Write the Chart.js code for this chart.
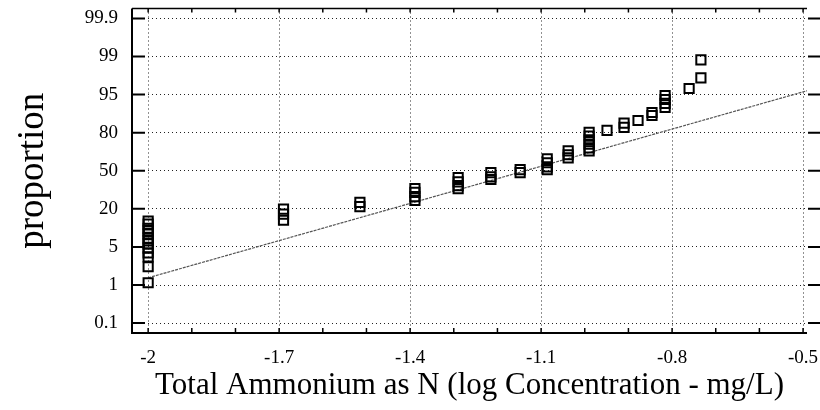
<!DOCTYPE html>
<html>
<head>
<meta charset="utf-8">
<script src="https://cdn.jsdelivr.net/npm/chart.js@4"></script>
<style>
  html, body { margin: 0; padding: 0; background: #fff; }
  canvas { display: block; }
</style>
</head>
<body>
<canvas id="probChart" width="820" height="410"></canvas>
<script>
// Normal probability plot - total ammonium
// y values are positions on the probability axis (0 = 0.1%, 8 = 99.9%)
const yTickLabels = ['0.1', '1', '5', '20', '50', '80', '95', '99', '99.9'];
const xTickValues = [-2, -1.7, -1.4, -1.1, -0.8, -0.5];

const concX = [
    -2, -2, -2, -2, -2, -2, -2, -2, -2, -2, -2, -2, -2,
    -1.69, -1.69, -1.69,
    -1.515, -1.515,
    -1.389, -1.389, -1.389, -1.389,
    -1.29, -1.29, -1.29, -1.29,
    -1.215, -1.215, -1.215,
    -1.148, -1.148,
    -1.086, -1.086, -1.086, -1.086,
    -1.038, -1.038, -1.038,
    -0.99, -0.99, -0.99, -0.99, -0.99, -0.99,
    -0.949,
    -0.91, -0.91,
    -0.878,
    -0.846, -0.846,
    -0.816, -0.816, -0.816, -0.816,
    -0.761,
    -0.734, -0.734
];
const probY = [
    1.06, 1.48, 1.74, 1.84, 1.97, 2.08, 2.16, 2.23, 2.34, 2.42, 2.49, 2.60, 2.68,
    2.70, 2.86, 2.99,
    3.06, 3.17,
    3.22, 3.32, 3.43, 3.53,
    3.53, 3.61, 3.71, 3.82,
    3.77, 3.84, 3.95,
    3.95, 4.03,
    4.03, 4.10, 4.21, 4.31,
    4.34, 4.42, 4.52,
    4.52, 4.60, 4.70, 4.81, 4.91, 5.01,
    5.06,
    5.14, 5.25,
    5.32,
    5.45, 5.53,
    5.66, 5.77, 5.87, 5.97,
    6.16,
    6.44, 6.91
];

// fitted normal line
const fitX = [-2, -0.491];
const fitY = [1.19, 6.10];

const serif = '"Liberation Serif", "DejaVu Serif", serif';

// frame with inner tick marks like the original plot
const framePlugin = {
    id: 'frame',
    afterDraw(chart) {
        const ctx = chart.ctx;
        const a = chart.chartArea;
        const xs = chart.scales.x;
        const ys = chart.scales.y;
        ctx.save();
        ctx.strokeStyle = '#000';
        ctx.setLineDash([]);

        ctx.lineWidth = 2;
        ctx.beginPath();
        ctx.moveTo(a.left, a.top);
        ctx.lineTo(a.left, a.bottom);
        ctx.lineTo(a.right, a.bottom);
        ctx.stroke();

        ctx.lineWidth = 1.5;
        ctx.beginPath();
        ctx.moveTo(a.left, a.top);
        ctx.lineTo(a.right, a.top);
        ctx.stroke();

        // y ticks: inside on the left, outside on the right
        ctx.lineWidth = 2;
        yTickLabels.forEach((lbl, i) => {
            const py = ys.getPixelForValue(i);
            ctx.beginPath();
            ctx.moveTo(a.left, py);
            ctx.lineTo(a.left + 13, py);
            ctx.moveTo(a.right + 1, py);
            ctx.lineTo(a.right + 13, py);
            ctx.stroke();
        });

        // x ticks every 0.1
        ctx.lineWidth = 1.5;
        for (let k = 0; k <= 15; k++) {
            const px = xs.getPixelForValue(-2 + k * 0.1);
            ctx.beginPath();
            ctx.moveTo(px, a.bottom);
            ctx.lineTo(px, a.bottom - 5);
            ctx.moveTo(px, a.top);
            ctx.lineTo(px, a.top + 4);
            ctx.stroke();
        }
        ctx.restore();
    }
};

const ctx = document.getElementById('probChart').getContext('2d');

new Chart(ctx, {
    type: 'scatter',
    data: {
        datasets: [
            {
                label: 'observed',
                data: concX.map((x, i) => ({ x: x, y: probY[i] })),
                pointStyle: 'rect',
                pointRadius: 6.5,
                pointBorderWidth: 2,
                pointBorderColor: '#000',
                pointBackgroundColor: 'rgba(0,0,0,0)'
            },
            {
                label: 'fit',
                type: 'line',
                data: fitX.map((x, i) => ({ x: x, y: fitY[i] })),
                borderColor: '#555',
                borderWidth: 1.2,
                borderDash: [3, 1],
                pointRadius: 0,
                fill: false
            }
        ]
    },
    options: {
        responsive: false,
        animation: false,
        events: [],
        layout: {
            padding: { top: 5, right: 13, left: 0, bottom: 0 }
        },
        plugins: {
            legend: { display: false },
            tooltip: { enabled: false }
        },
        scales: {
            x: {
                type: 'linear',
                min: -2.037,
                max: -0.491,
                afterBuildTicks: function(scale) {
                    scale.ticks = xTickValues.map(v => ({ value: v }));
                },
                afterFit: function(scale) {
                    scale.height = 77;
                    scale.paddingLeft = 0;
                    scale.paddingRight = 0;
                },
                grid: {
                    color: '#222',
                    lineWidth: 1,
                    drawTicks: false
                },
                border: { display: false, dash: [1, 3] },
                ticks: {
                    padding: 14,
                    color: '#000',
                    maxRotation: 0,
                    font: { family: serif, size: 19 },
                    callback: function(value) {
                        return String(value);
                    }
                },
                title: {
                    display: true,
                    text: 'Total Ammonium as N (log Concentration - mg/L)',
                    color: '#000',
                    font: { family: serif, size: 31 },
                    padding: { top: 0, bottom: 6 }
                }
            },
            y: {
                type: 'linear',
                min: -0.26,
                max: 8.26,
                afterBuildTicks: function(scale) {
                    scale.ticks = yTickLabels.map((l, i) => ({ value: i }));
                },
                afterFit: function(scale) {
                    scale.width = 132;
                    scale.paddingTop = 0;
                    scale.paddingBottom = 0;
                },
                grid: {
                    color: '#222',
                    lineWidth: 1,
                    drawTicks: false
                },
                border: { display: false, dash: [1, 3] },
                ticks: {
                    padding: 14,
                    color: '#000',
                    font: { family: serif, size: 19 },
                    callback: function(value) {
                        return yTickLabels[value];
                    }
                },
                title: {
                    display: true,
                    text: 'proportion',
                    color: '#000',
                    font: { family: serif, size: 37 },
                    padding: { top: 11, bottom: 0 }
                }
            }
        }
    },
    plugins: [framePlugin]
});
</script>
</body>
</html>
